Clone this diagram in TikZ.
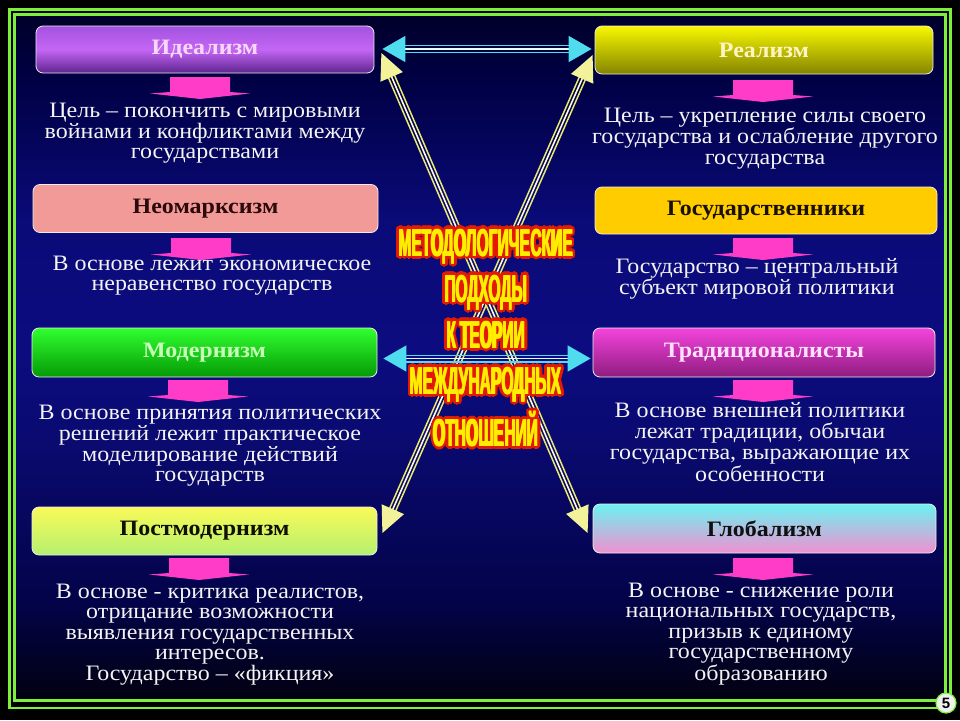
\documentclass[tikz,border=0pt]{standalone}
\usepackage{fontspec}
\usepackage{graphicx}
\setmainfont{Liberation Serif}
\newfontfamily\headsans{Liberation Sans}
\usetikzlibrary{arrows.meta,calc}
\definecolor{bg0}{HTML}{010110}
\definecolor{bg1}{HTML}{03034A}
\definecolor{bg2}{HTML}{0A0A70}
\definecolor{bg3}{HTML}{0C0C80}
\definecolor{bg4}{HTML}{0A0A78}
\definecolor{bg5}{HTML}{000045}
\definecolor{bg6}{HTML}{00002A}
\definecolor{framegreen}{HTML}{7CF03C}
\definecolor{arrowpink}{HTML}{FF3CC8}
\definecolor{arrcyan}{HTML}{4FDCEE}
\definecolor{arrcyanlt}{HTML}{E2FFFF}
\definecolor{arryel}{HTML}{EAEA70}
\definecolor{arryellt}{HTML}{FFFDE0}
\definecolor{arryelhead}{HTML}{F2F29A}
\definecolor{glowred}{HTML}{E41A00}
\definecolor{titleyel}{HTML}{FFEE00}
\definecolor{textwhite}{HTML}{F4F4F4}
% box colours
\definecolor{idtop}{HTML}{A452E0}\definecolor{idmid}{HTML}{C466F4}\definecolor{idbot}{HTML}{5E2490}\definecolor{idtext}{HTML}{F8D8F8}
\definecolor{neofill}{HTML}{F29A98}\definecolor{neotext}{HTML}{2A0A0A}
\definecolor{modtop}{HTML}{30FF30}\definecolor{modbot}{HTML}{059A05}\definecolor{modtext}{HTML}{C8FFB8}
\definecolor{posttop}{HTML}{FAFA58}\definecolor{postbot}{HTML}{B4F070}\definecolor{posttext}{HTML}{101000}
\definecolor{realtop}{HTML}{F8F800}\definecolor{realbot}{HTML}{848400}\definecolor{realtext}{HTML}{FFF4C8}
\definecolor{gosfill}{HTML}{FFCC00}\definecolor{gostext}{HTML}{1A1000}
\definecolor{tradtop}{HTML}{F444DC}\definecolor{tradbot}{HTML}{8E1C80}\definecolor{tradtext}{HTML}{FFE0FF}
\definecolor{globtop}{HTML}{6CF2F2}\definecolor{globbot}{HTML}{F090D0}\definecolor{globtext}{HTML}{101010}
\newcommand\glowtxt[1]{%
  \setbox0\hbox{\scalebox{0.40}[1]{#1}}%
  \foreach \dx/\dy in {3.2/0,2.96/1.22,2.26/2.26,1.22/2.96,0/3.2,-1.22/2.96,-2.26/2.26,-2.96/1.22,-3.2/0,-2.96/-1.22,-2.26/-2.26,-1.22/-2.96,0/-3.2,1.22/-2.96,2.26/-2.26,2.96/-1.22}{%
    \rlap{\kern\dx pt\raise\dy pt\hbox{\color{glowred}\copy0}}}%
  \rlap{\kern-0.6pt\hbox{\color{titleyel}\copy0}}%
  \rlap{\kern0.6pt\hbox{\color{titleyel}\copy0}}%
  \hbox{\color{titleyel}\copy0}}
\newcommand\blk[1]{\scalebox{1.09}[1]{\begin{tabular}[t]{@{}c@{}}#1\end{tabular}}}
\newcommand\ttl[1]{\scalebox{1.09}[1]{#1}}
% background band segment: from row #1 to row #2, colour #3 to #4
\newcommand\bgseg[4]{%
  \pgfmathtruncatemacro\nb{(#2-#1)/3}%
  \foreach \k in {0,...,\nb}{%
    \pgfmathsetmacro\pct{100*\k/\nb}%
    \pgfmathsetmacro\yy{#1+3*\k}%
    \fill[#4!\pct!#3] (14,\yy) rectangle (946,\yy+3.4);
  }}
\tikzset{
  box/.style={rounded corners=7pt, draw=white!85!gray, line width=0.8pt,
    inner sep=0pt, font=\fontsize{22}{22}\selectfont\bfseries},
  txt/.style={text=textwhite, inner sep=0pt, anchor=base,
    font=\fontsize{22}{20.5}\selectfont},
  pics/downarrow/.style={code={
    \fill[arrowpink] (-30,0) -- (30,0) -- (30,15) -- (50,16.5) -- (0,22)
      -- (-50,16.5) -- (-30,15) -- cycle;}},
  cyanside/.style={draw=arrcyan, line width=1.4pt, shorten <=18pt, shorten >=18pt},
  cyanmain/.style={draw=arrcyanlt, line width=1.6pt,
    {Triangle[length=23pt,width=26pt,color=arrcyan]}-{Triangle[length=23pt,width=26pt,color=arrcyan]}},
  yelside/.style={draw=arryel, line width=1.5pt, shorten <=20pt, shorten >=20pt},
  yelmain/.style={draw=arryellt, line width=1.6pt,
    {Triangle[length=26pt,width=24pt,color=arryelhead]}-{Triangle[length=26pt,width=24pt,color=arryelhead]}},
}
\begin{document}
\begin{tikzpicture}[x=1pt,y=-1pt]
\useasboundingbox (0,0) rectangle (960,720);
\fill[black] (0,0) rectangle (960,720);
\begin{scope}
  \clip (14,14) rectangle (946,701);
  \bgseg{14}{80}{bg6}{bg5}
  \bgseg{80}{220}{bg5}{bg4}
  \bgseg{220}{350}{bg4}{bg3}
  \bgseg{350}{440}{bg3}{bg2}
  \bgseg{440}{600}{bg2}{bg1}
  \bgseg{600}{701}{bg1}{bg0}
\end{scope}
\draw[framegreen, line width=2.8pt] (9.5,9.5) rectangle (950.5,708);
\draw[framegreen, line width=2.4pt] (14.5,14.5) rectangle (945.5,700.5);

% ---------- boxes ----------
\node[box, top color=idtop, bottom color=idbot, middle color=idmid, text=idtext,
  minimum width=338pt, minimum height=47pt] (ideal) at (205,49.5) {\ttl{Идеализм}};
\node[box, fill=neofill, text=neotext,
  minimum width=345pt, minimum height=48pt] (neo) at (205.5,208.5) {\ttl{Неомарксизм}};
\node[box, top color=modtop, bottom color=modbot, text=modtext,
  minimum width=345pt, minimum height=49pt] (mod) at (204.5,352.5) {\ttl{Модернизм}};
\node[box, top color=posttop, bottom color=postbot, text=posttext,
  minimum width=345pt, minimum height=48pt] (post) at (204.5,531) {\ttl{Постмодернизм}};
\node[box, top color=realtop, bottom color=realbot, text=realtext,
  minimum width=338pt, minimum height=48pt] (real) at (764,50) {\ttl{Реализм}};
\node[box, fill=gosfill, text=gostext,
  minimum width=342pt, minimum height=47pt] (gos) at (766,210.5) {\ttl{Государственники}};
\node[box, top color=tradtop, bottom color=tradbot, text=tradtext,
  minimum width=342pt, minimum height=49pt] (trad) at (764,352.5) {\ttl{Традиционалисты}};
\node[box, top color=globtop, bottom color=globbot, text=globtext,
  minimum width=343pt, minimum height=49pt] (glob) at (764.5,528.5) {\ttl{Глобализм}};

% ---------- pink down arrows ----------
\pic at (200,77) {downarrow};
\pic at (201,238) {downarrow};
\pic at (198,380) {downarrow};
\pic at (199,558) {downarrow};
\pic at (763,80) {downarrow};
\pic at (763,238) {downarrow};
\pic at (763,380) {downarrow};
\pic at (763,558) {downarrow};

% ---------- texts ----------
\node[txt] (tideal) at (205,117) {\blk{Цель – покончить с мировыми\\войнами и конфликтами между\\государствами}};
\node[txt] (tneo) at (212,270) {\blk{В основе лежит экономическое\\неравенство государств}};
\node[txt] (tmod) at (210,419) {\blk{В основе принятия политических\\решений лежит практическое\\моделирование действий\\государств}};
\node[txt] (tpost) at (210,598) {\blk{В основе - критика реалистов,\\отрицание возможности\\выявления государственных\\интересов.\\Государство – «фикция»}};
\node[txt] (treal) at (765,122) {\blk{Цель – укрепление силы своего\\государства и ослабление другого\\государства}};
\node[txt] (tgos) at (757,273) {\blk{Государство – центральный\\субъект мировой политики}};
\node[txt] (ttrad) at (760,417) {\blk{В основе внешней политики\\лежат традиции, обычаи\\государства, выражающие их\\особенности}};
\node[txt] (tglob) at (761,597) {\blk{В основе - снижение роли\\национальных государств,\\призыв к единому\\государственному\\образованию}};

% ---------- connectors ----------
\coordinate (hA) at ($(ideal.east)+(8,-0.5)$);
\coordinate (hB) at ($(real.west)+(-3,-1)$);
\coordinate (mA) at ($(mod.east)+(6,6)$);
\coordinate (mB) at ($(trad.west)+(-2,6)$);
\coordinate (d1A) at ($(ideal.east)+(7,3.5)$);
\coordinate (d1B) at ($(glob.west)+(-5,4.5)$);
\coordinate (d2A) at ($(real.west)+(-2,5)$);
\coordinate (d2B) at ($(post.east)+(5,2)$);

\draw[yelside, transform canvas={xshift=3.03pt,yshift=1.31pt}] (d1A) -- (d1B);
\draw[yelside, transform canvas={xshift=-3.03pt,yshift=-1.31pt}] (d1A) -- (d1B);
\draw[yelmain] (d1A) -- (d1B);
\draw[yelside, transform canvas={xshift=3.02pt,yshift=-1.33pt}] (d2A) -- (d2B);
\draw[yelside, transform canvas={xshift=-3.02pt,yshift=1.33pt}] (d2A) -- (d2B);
\draw[yelmain] (d2A) -- (d2B);

\draw[cyanside, transform canvas={yshift=3.3pt}] (hA) -- (hB);
\draw[cyanside, transform canvas={yshift=-3.3pt}] (hA) -- (hB);
\draw[cyanmain] (hA) -- (hB);

% ---------- central title ----------
\node[anchor=base, inner sep=0pt, font=\headsans\bfseries\fontsize{39}{46}\selectfont] (title) at (486,256)
  {\begin{tabular}[t]{@{}c@{}}\glowtxt{МЕТОДОЛОГИЧЕСКИЕ}\\\glowtxt{ПОДХОДЫ}\\\glowtxt{К ТЕОРИИ}\\\glowtxt{МЕЖДУНАРОДНЫХ}\\\glowtxt{ОТНОШЕНИЙ}\end{tabular}};

\draw[cyanside, transform canvas={yshift=3.3pt}] (mA) -- (mB);
\draw[cyanside, transform canvas={yshift=-3.3pt}] (mA) -- (mB);
\draw[cyanmain] (mA) -- (mB);

% ---------- page number ----------
\node[circle, fill=white!88!gray, draw=framegreen, line width=1.2pt, inner sep=0pt,
  minimum size=20pt, font=\headsans\bfseries\fontsize{15}{15}\selectfont] (pg) at (946,703) {5};
\end{tikzpicture}
\end{document}
